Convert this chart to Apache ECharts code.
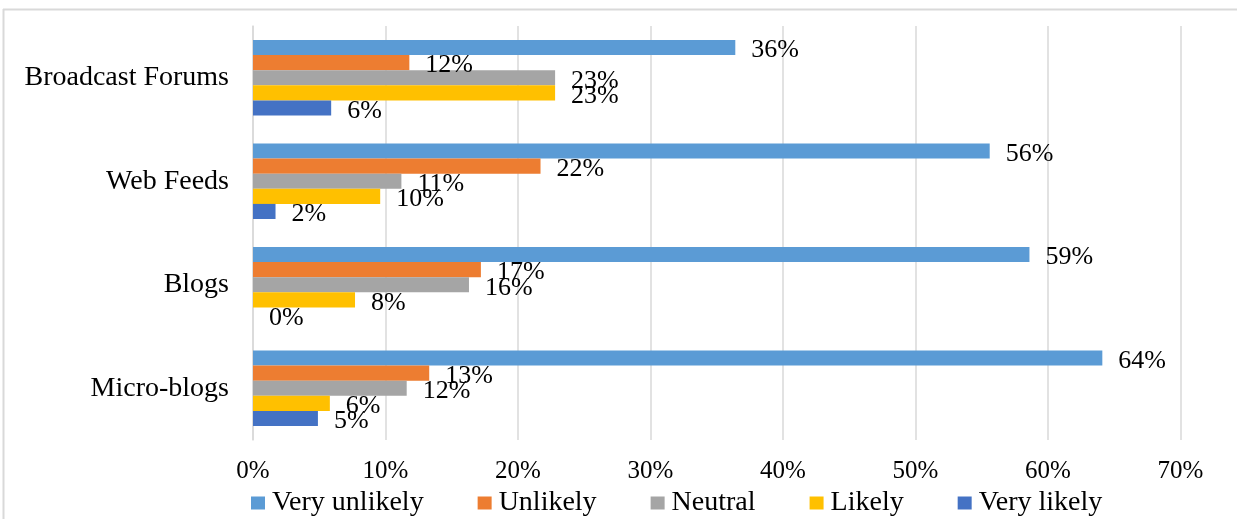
<!DOCTYPE html>
<html>
<head>
<meta charset="utf-8">
<script src="https://cdn.jsdelivr.net/npm/echarts@6/dist/echarts.min.js"></script>
<style>
html,body{margin:0;padding:0;background:#fff;}
#chart{width:1237px;height:519px;}
</style>
</head>
<body>
<div id="chart"></div>
<script>
// Categories (bottom to top on the y axis)
const categories = ['Micro-blogs', 'Blogs', 'Web Feeds', 'Broadcast Forums'];
const seriesNames = ['Very unlikely', 'Unlikely', 'Neutral', 'Likely', 'Very likely'];
// Values (%) per series, in category order
const veryUnlikely = [64.1, 58.6, 55.6, 36.4];
const unlikely     = [13.3, 17.2, 21.7, 11.8];
const neutral      = [11.6, 16.3, 11.2, 22.8];
const likely       = [5.8, 7.7, 9.6, 22.8];
const veryLikely   = [4.9, 0, 1.7, 5.9];
const xTicks = { min: 0, max: 70, interval: 10 };

const colors = ['#5B9BD5', '#ED7D31', '#A5A5A5', '#FFC000', '#4472C4'];
const values = [veryUnlikely, unlikely, neutral, likely, veryLikely];
const FONT = '"Liberation Serif", "Times New Roman", serif';

const chart = echarts.init(document.getElementById('chart'), null, {renderer: 'canvas'});

const series = seriesNames.map((name, i) => ({
  name: name,
  type: 'bar',
  data: values[i],
  itemStyle: { color: colors[i] },
  barGap: '0%',
  barCategoryGap: '27%',
  label: {
    show: true,
    position: 'right',
    distance: 16,
    offset: [0, 3],
    color: '#000',
    fontFamily: FONT,
    fontSize: 26,
    formatter: p => Math.round(p.value) + '%'
  }
}));

chart.setOption({
  animation: false,
  color: colors,
  textStyle: { fontFamily: FONT },
  graphic: [
    { type: 'line', shape: { x1: 3, y1: 9.5, x2: 1237, y2: 9.5 }, style: { stroke: '#d9d9d9', lineWidth: 2 } },
    { type: 'line', shape: { x1: 3.5, y1: 9, x2: 3.5, y2: 519 }, style: { stroke: '#d9d9d9', lineWidth: 2 } }
  ],
  grid: { left: 253, right: 56.5, top: 26, bottom: 79, containLabel: false },
  legend: {
    data: seriesNames,
    left: 251,
    top: 489,
    padding: 0,
    icon: 'rect',
    itemWidth: 14,
    itemHeight: 13,
    itemGap: 54,
    textStyle: { fontFamily: FONT, fontSize: 28, color: '#000', padding: [0, 0, 0, 2] }
  },
  xAxis: {
    type: 'value',
    min: xTicks.min,
    max: xTicks.max,
    interval: xTicks.interval,
    axisLine: { show: false },
    axisTick: { show: false },
    splitLine: { show: true, lineStyle: { color: '#d9d9d9', width: 1.5 } },
    axisLabel: { formatter: '{value}%', fontFamily: FONT, fontSize: 25, color: '#000', margin: 19 }
  },
  yAxis: {
    type: 'category',
    data: categories,
    axisLine: { show: true, lineStyle: { color: '#d9d9d9', width: 1.5 } },
    axisTick: { show: false },
    axisLabel: { fontFamily: FONT, fontSize: 28, color: '#000', margin: 24 }
  },
  series: series
});
</script>
</body>
</html>
